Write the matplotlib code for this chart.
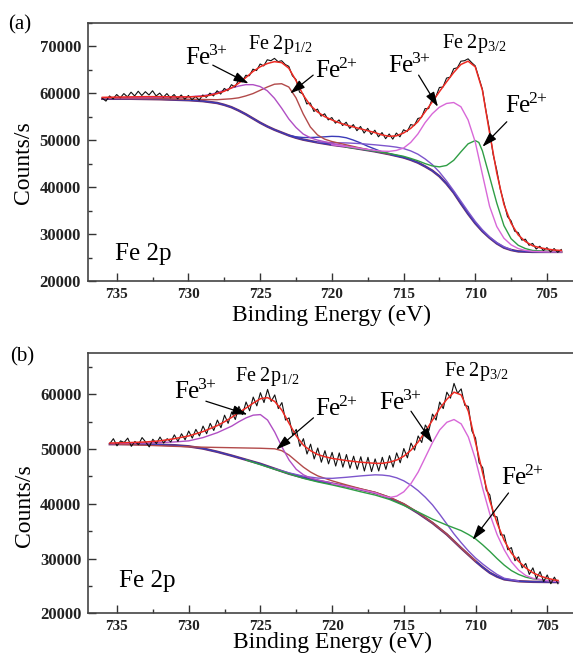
import matplotlib.pyplot as plt
import numpy as np
from matplotlib.ticker import MultipleLocator

plt.rcParams['font.family'] = 'Liberation Serif'
plt.rcParams['mathtext.fontset'] = 'custom'
plt.rcParams['mathtext.rm'] = 'Liberation Serif'
plt.rcParams['mathtext.it'] = 'Liberation Serif:italic'
plt.rcParams['mathtext.bf'] = 'Liberation Serif:bold'

# ---------------- sample (a) ----------------
# raw spectrum, 0.25 eV steps starting at 736 eV
raw_start_a = 736.0
raw_a = [
    58900, 58300, 59400, 58800, 59700, 59000, 59900, 59200,
    60200, 59400, 60400, 59500, 60300, 59600, 60500, 59400,
    60000, 59100, 59900, 59000, 59700, 58800, 59600, 58700,
    59500, 58600, 59300, 58500, 59600,
    59100, 60000, 59400, 60500, 59800, 61000, 60500, 61800,
    61300, 62800, 62400, 63800, 63700, 65100, 64800, 66200,
    65800, 67100, 66900, 67400, 66700, 66900, 66100, 65700,
    63700, 62900, 60200, 59800, 57700, 57900, 56100, 56600,
    55100, 55600, 54300, 54800, 53600, 54300, 53100, 53800,
    52500, 53300, 52000, 52900, 51500, 52500, 51200, 52100,
    50700, 51600, 50300, 51300, 50200, 51500, 50700, 52200,
    51800, 53300, 53100, 54600, 54800, 56700, 56700, 58800,
    59200, 61200, 61300, 63200, 63400, 65200, 65400, 66800,
    66900, 67300, 66500, 65800, 63300, 60800, 56200, 52100,
    46900, 43600, 39500, 36700, 33700, 32800, 30600, 30300,
    28700, 28900, 27600, 28000, 26800, 27400, 26500, 27100,
    26200, 26900, 26100, 26700,
]

fit_e_a = [736, 735, 734, 733, 732, 731, 730, 729, 728.5, 728, 727.5, 727,
           726.5, 726, 725.5, 725, 724.5, 724, 723.5, 723, 722.5, 722,
           721.5, 721, 720.5, 720, 719.5, 719, 718.5, 718, 717.5, 717,
           716.5, 716, 715.5, 715, 714.5, 714, 713.5, 713, 712.5, 712,
           711.5, 711, 710.5, 710, 709.5, 709, 708.5, 708, 707.5, 707,
           706.5, 706, 705.5, 705, 704.5, 704]
fit_a = [59100, 59150, 59200, 59250, 59250, 59200, 59200, 59300, 59550, 59900,
         60400, 61100, 62100, 63300, 64600, 65600, 66300, 66700, 66500, 65300,
         62700, 59600, 57400, 56000, 55000, 54300, 53700, 53200, 52800, 52400,
         52000, 51600, 51100, 50800, 50900, 51500, 52500, 53900, 56000, 58100,
         60300, 62400, 64400, 66100, 66800, 65600, 60600, 51500, 43000, 36300,
         32300, 29800, 28400, 27500, 27100, 26800, 26600, 26500]

bg_e_a = [736, 734, 732, 730, 729, 728, 727.5, 727, 726.5, 726, 725.5, 725,
          724.5, 724, 723.5, 723, 722.5, 722, 721, 720, 719, 718, 717, 716,
          715, 714.5, 714, 713.5, 713, 712.5, 712, 711.5, 711, 710.5, 710,
          709.5, 709, 708.5, 708, 707.5, 707, 706, 704]
bg_a = [58800, 58800, 58700, 58500, 58300, 57900, 57500, 57000, 56300, 55500,
        54600, 53700, 52900, 52200, 51600, 51000, 50500, 50100, 49500, 49000,
        48600, 48100, 47600, 47000, 46300, 45800, 45200, 44400, 43500, 42300,
        40700, 38800, 36500, 34300, 32300, 30600, 29200, 28000, 27100, 26600,
        26300, 26200, 26200]

fe3_12_e_a = [736, 733, 730, 729, 728.5, 728, 727.5, 727, 726.5, 726, 725.5,
              725, 724.5, 724, 723.5, 723, 722.5, 722, 721.5, 721, 720, 719,
              718, 717]
fe3_12_a = [59000, 59050, 59200, 59450, 59700, 60100, 60600, 61100, 61500,
            61800, 61800, 61400, 60500, 58900, 56800, 54500, 52700, 51300,
            50500, 50000, 49300, 48700, 48200, 47700]

fe2_12_e_a = [736, 732, 730, 728, 727, 726.5, 726, 725.5, 725, 724.5, 724,
              723.5, 723, 722.5, 722, 721.5, 721, 720.5, 720, 719, 718, 717,
              716]
fe2_12_a = [58900, 58800, 58700, 58600, 58800, 59000, 59400, 59900, 60600,
            61300, 61900, 62000, 61300, 59000, 55600, 52800, 51100, 50200,
            49700, 49000, 48300, 47700, 47050]

sat1_e_a = [723, 722.5, 722, 721.5, 721, 720.5, 720, 719.5, 719, 718.5, 718,
            717.5, 717, 716.5, 716, 715]
sat1_a = [51000, 50700, 50550, 50550, 50600, 50700, 50800, 50750, 50500,
          50000, 49400, 48700, 48100, 47500, 47050, 46300]

sat2_e_a = [721, 720, 719, 718, 717, 716, 715.5, 715, 714.5, 714, 713.5,
            713, 712.5, 712, 711.5, 711, 710.5, 710, 709.5, 709, 708.5, 708,
            707.5]
sat2_a = [49600, 49450, 49400, 49250, 49000, 48700, 48500, 48200, 47700,
          47000, 46000, 44800, 43200, 41300, 39200, 37000, 34800, 32700,
          30900, 29400, 28200, 27300, 26700]

fe3_32_e_a = [720, 719, 718, 717, 716.5, 716, 715.5, 715, 714.5, 714, 713.5,
              713, 712.5, 712, 711.5, 711, 710.5, 710, 709.5, 709, 708.5,
              708, 707.5, 707, 706.5, 706, 705, 704]
fe3_32_a = [49000, 48650, 48200, 47800, 47650, 47600, 47800, 48300, 49500,
            51300, 53700, 55600, 57000, 57800, 58000, 57100, 54300, 49600,
            42700, 35900, 31600, 29100, 27700, 26900, 26500, 26300, 26200,
            26200]

fe2_32_e_a = [719, 718, 717, 716, 715, 714.5, 714, 713.5, 713, 712.5, 712,
              711.5, 711, 710.5, 710, 709.75, 709.5, 709, 708.5, 708, 707.5,
              707, 706.5, 706, 705, 704]
fe2_32_a = [48500, 48100, 47650, 47150, 46550, 46100, 45600, 45000, 44500,
            44300, 44600, 45700, 47500, 49200, 49900, 49500, 47700, 42200,
            36600, 31800, 29000, 27600, 26900, 26500, 26300, 26250]

# ---------------- sample (b) ----------------
raw_start_b = 735.5
raw_b = [
    51000, 51900, 50600, 51500, 51200, 52000, 50500, 51400,
    50800, 52100, 51300, 50400, 51800, 51000, 52200, 51100,
    51900, 51300, 52600, 51400, 52800, 51700, 53300, 52000,
    53600, 52400, 54200, 52800, 54700, 53400, 55300, 53900,
    56200, 54700, 56800, 55400, 57800, 56300, 58600, 57000,
    59500, 57900, 60300, 58500, 60900, 58700, 59900, 57400,
    58500, 55300, 55700, 52600, 53600, 50500, 51900, 49100,
    50900, 48200, 50200, 47600, 49700, 47300, 49400, 46900,
    49300, 46700, 49000, 46500, 48700, 46300, 48600, 46000,
    48500, 45900, 48200, 46000, 48500, 46300, 48800, 46700,
    49300, 47500, 50100, 48400, 51100, 49800, 52400, 51200,
    54400, 53400, 56400, 55300, 58600, 57400, 60400, 59300,
    62000, 60200, 61000, 58000, 57800, 53300, 52000, 47500,
    46600, 42500, 41600, 37800, 37600, 34300, 34300, 31600,
    32000, 29600, 30300, 28300, 29100, 27100, 28300, 26300,
    27600, 25800, 27000, 25400, 26600, 25400,
]

fit_e_b = [735.5, 734, 733, 732, 731, 730, 729, 728, 727.5, 727, 726.5, 726,
           725.5, 725, 724.5, 724, 723.5, 723, 722.5, 722, 721.5, 721, 720.5,
           720, 719, 718, 717, 716.5, 716, 715.5, 715, 714.5, 714, 713.5,
           713, 712.5, 712, 711.5, 711, 710.5, 710, 709.5, 709, 708.5, 708,
           707.5, 707, 706.5, 706, 705.5, 705, 704.5, 704.25]
fit_b = [51100, 51200, 51300, 51500, 51900, 52400, 53200, 54300, 55000, 55800,
         56700, 57500, 58400, 59200, 59400, 58700, 57100, 54700, 52400, 50700,
         49700, 49000, 48600, 48300, 47900, 47600, 47400, 47400, 47600, 48000,
         48700, 49800, 51300, 53200, 55300, 57400, 59100, 60400, 59900, 56900,
         51200, 45600, 40500, 36500, 33300, 31000, 29500, 28300, 27400, 26800,
         26400, 26100, 26000]

bg_e_b = [735.5, 734, 732, 731, 730, 729, 728, 727, 726, 725, 724, 723, 722,
          721, 720, 719, 718, 717, 716, 715, 714, 713, 712, 711, 710, 709.5,
          709, 708.5, 708, 707, 706, 704.25]
bg_b = [50900, 50900, 50800, 50700, 50500, 50100, 49500, 48800, 48050, 47300,
        46400, 45500, 44800, 44200, 43700, 43200, 42600, 42000, 41100, 39900,
        38300, 36500, 34400, 31900, 29500, 28400, 27400, 26700, 26200, 25850,
        25750, 25700]

fe3_12_e_b = [735.5, 733, 731, 730, 729, 728, 727, 726.5, 726, 725.5, 725,
              724.5, 724, 723.5, 723, 722.5, 722, 721.5, 721, 720]
fe3_12_b = [51000, 51100, 51300, 51500, 52100, 53000, 54200, 55000, 55700,
            56200, 56300, 55300, 53100, 50400, 48000, 46300, 45300, 44700,
            44350, 43800]

fe2_12_e_b = [735.5, 733, 731, 729, 727, 725, 724, 723.5, 723, 722.5, 722,
              721.5, 721, 720, 719, 718, 717, 716, 715, 714, 713, 712, 711,
              710]
fe2_12_b = [50950, 50700, 50500, 50350, 50250, 50150, 50050, 49700, 48900,
            47800, 46700, 45800, 45100, 44200, 43450, 42750, 42100, 41200,
            40000, 38400, 36550, 34450, 31950, 29550]

sat_e_b = [724, 723, 722, 721, 720, 719, 718, 717, 716.5, 716, 715.5, 715,
           714.5, 714, 713.5, 713, 712.5, 712, 711.5, 711, 710.5, 710, 709.5,
           709, 708.5, 708, 707]
sat_b = [46400, 45650, 45050, 44700, 44650, 44850, 45100, 45300, 45250, 45100,
         44750, 44200, 43400, 42400, 41200, 39800, 38100, 36300, 34500, 32900,
         31400, 30100, 29000, 28000, 27100, 26400, 25900]

fe3_32_e_b = [720, 719, 718, 717, 716.5, 716, 715.5, 715, 714.5, 714, 713.5,
              713, 712.5, 712, 711.5, 711, 710.5, 710, 709.5, 709, 708.5,
              708, 707.5, 707, 706.5, 706, 705, 704.25]
fe3_32_b = [43700, 43200, 42600, 42000, 41500, 41150, 41400, 42200, 43700,
            45800, 48500, 51200, 53500, 54900, 55400, 54600, 52200, 48100,
            42800, 38100, 34400, 31600, 29400, 27900, 26900, 26400, 25950,
            25800]

fe2_32_e_b = [726, 724, 722, 721, 720, 719, 718, 717, 716, 715, 714, 713,
              712, 711, 710.5, 710, 709.5, 709, 708.5, 708, 707.5, 707, 706.5,
              706, 705, 704.25]
fe2_32_b = [48000, 46300, 44650, 44000, 43450, 42850, 42200, 41600, 40800,
            39700, 38500, 37200, 36100, 35100, 34400, 33600, 32500, 31300,
            30000, 28800, 27800, 27100, 26600, 26300, 26000, 25900]

BLUE = '#3b3bb8'
MAROON = '#7a2f5e'
VIOLET = '#b04fc4'
MAGENTA = '#d868d8'
BROWN = '#b24a4a'
GREEN = '#2f9e45'
PURPLE = '#7d55cc'
RED = '#ee2a22'

ARROW = dict(arrowstyle='-|>,head_length=0.9,head_width=0.28',
             color='black', lw=0.9, shrinkA=0, shrinkB=0)


def raw_energies(start, counts):
    return start - 0.25 * np.arange(len(counts))


def draw_spectrum(ax, raw_start, raw, fit_e, fit, bg_e, bg, comps):
    ax.plot(bg_e, bg, color=MAROON, lw=1.8, zorder=2)
    ax.plot(bg_e, bg, color=BLUE, lw=1.0, zorder=2.1)
    for e, c, col in comps:
        ax.plot(e, c, color=col, lw=1.0, zorder=3)
    ax.plot(raw_energies(raw_start, raw), raw, color='#111111', lw=0.8,
            zorder=4)
    ax.plot(fit_e, fit, color=RED, lw=1.1, zorder=5)


def label_ion(ax, text_pos, charge, start, tip):
    ax.text(*text_pos, r'$\mathrm{Fe}^{\!%s{+}}$' % charge, fontsize=18,
            ha='left', va='baseline', zorder=7)
    ax.annotate('', xy=tip, xytext=start, arrowprops=ARROW, zorder=7)


def style_axes(ax, ylim, yticks):
    ax.set_xlim(737, 703)
    ax.set_ylim(*ylim)
    ax.set_xticks([735, 730, 725, 720, 715, 710, 705])
    ax.xaxis.set_minor_locator(MultipleLocator(2.5))
    ax.set_yticks(yticks)
    ax.yaxis.set_minor_locator(MultipleLocator(5000))
    ax.tick_params(which='both', direction='in', color='#333333',
                   width=1.0, top=False, right=False)
    ax.tick_params(which='major', length=6, pad=5)
    ax.tick_params(which='minor', length=3)
    ax.tick_params(axis='x', labelsize=11)
    ax.tick_params(axis='y', labelsize=12)
    for lab in ax.get_xticklabels() + ax.get_yticklabels():
        lab.set_fontweight('bold')
        lab.set_color('#222222')
    for sp in ax.spines.values():
        sp.set_color('#444444')
        sp.set_linewidth(1.2)
    ax.set_ylabel('Counts/s', fontsize=17)


fig = plt.figure(figsize=(5.73, 6.61), dpi=100)
ax_a = fig.add_axes([0.1536, 0.5749, 0.851, 0.3908])
ax_b = fig.add_axes([0.1541, 0.0722, 0.851, 0.3933])

draw_spectrum(ax_a, raw_start_a, raw_a, fit_e_a, fit_a, bg_e_a, bg_a, [
    (sat1_e_a, sat1_a, BLUE),
    (sat2_e_a, sat2_a, PURPLE),
    (fe2_12_e_a, fe2_12_a, BROWN),
    (fe3_12_e_a, fe3_12_a, VIOLET),
    (fe2_32_e_a, fe2_32_a, GREEN),
    (fe3_32_e_a, fe3_32_a, MAGENTA),
])
style_axes(ax_a, (20000, 75000), range(20000, 70001, 10000))
ax_a.set_xlabel('Binding Energy (eV)', fontsize=17, labelpad=3)
ax_a.yaxis.set_label_coords(-0.11, 0.46)
ax_a.text(735.12, 24470, 'Fe 2p', fontsize=18, va='baseline')
ax_a.text(725.84, 69300, r'$\mathrm{Fe\ 2p}_{1/2}$', fontsize=14.5,
          va='baseline')
ax_a.text(712.32, 69640, r'$\mathrm{Fe\ 2p}_{3/2}$', fontsize=14.5,
          va='baseline')
label_ion(ax_a, (730.23, 65960), '3', (728.3, 65960), (725.8, 62060))
label_ion(ax_a, (721.16, 63190), '2', (721.3, 63830), (722.9, 59930))
label_ion(ax_a, (716.05, 64260), '3', (713.95, 63830), (712.6, 57090))
label_ion(ax_a, (707.9, 55740), '2', (707.8, 53900), (709.5, 48570))

draw_spectrum(ax_b, raw_start_b, raw_b, fit_e_b, fit_b, bg_e_b, bg_b, [
    (fe2_12_e_b, fe2_12_b, BROWN),
    (sat_e_b, sat_b, PURPLE),
    (fe3_12_e_b, fe3_12_b, VIOLET),
    (fe2_32_e_b, fe2_32_b, GREEN),
    (fe3_32_e_b, fe3_32_b, MAGENTA),
])
style_axes(ax_b, (20000, 67500), range(20000, 60001, 10000))
ax_b.set_xlabel('Binding Energy (eV)', fontsize=17, labelpad=-1)
ax_b.yaxis.set_label_coords(-0.11, 0.416)
ax_b.text(734.88, 24870, 'Fe 2p', fontsize=18, va='baseline')
ax_b.text(726.74, 62420, r'$\mathrm{Fe\ 2p}_{1/2}$', fontsize=14.5,
          va='baseline')
ax_b.text(712.2, 63330, r'$\mathrm{Fe\ 2p}_{3/2}$', fontsize=14.5,
          va='baseline')
label_ion(ax_b, (731.04, 59070), '3', (728.8, 58750), (725.9, 56320))
label_ion(ax_b, (721.16, 56010), '2', (721.3, 55710), (723.9, 49900))
label_ion(ax_b, (716.74, 57230), '3', (714.5, 56920), (713.0, 51140))
label_ion(ax_b, (708.25, 43500), '2', (707.7, 41980), (710.2, 33420))

fig.text(8 / 573, 1 - 25 / 661, '(a)', fontsize=15, va='center')
fig.text(10 / 573, 1 - 357 / 661, '(b)', fontsize=15, va='center')

fig.savefig('out.png', dpi=100)
